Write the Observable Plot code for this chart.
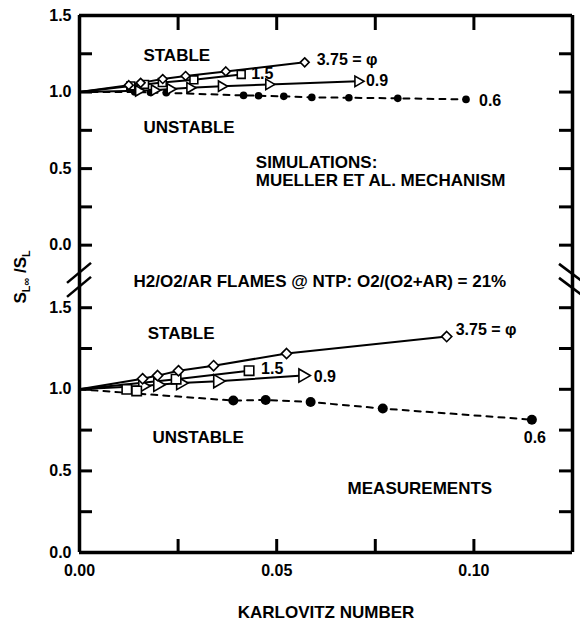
<!DOCTYPE html>
<html>
<head>
<meta charset="utf-8">
<script src="https://cdn.jsdelivr.net/npm/d3@7"></script>
<script src="https://cdn.jsdelivr.net/npm/@observablehq/plot@0.6"></script>
<style>
  html, body { margin: 0; padding: 0; background: #fff; }
  #chart { position: relative; width: 580px; height: 623px; }
  #chart svg { position: absolute; left: 0; top: 0; overflow: visible; }
</style>
</head>
<body>
<div id="chart"></div>
<script>
// ---------------- data ----------------
const originKa = 0.0, originSL = 1.0;

// Simulations (Mueller et al. mechanism)
const simKa375 = [0.0125, 0.0155, 0.0211, 0.0269, 0.0371, 0.0571];
const simSL375 = [1.045, 1.06, 1.085, 1.105, 1.135, 1.194];
const simKa15  = [0.013, 0.0165, 0.021, 0.029, 0.041];
const simSL15  = [1.04, 1.05, 1.062, 1.08, 1.115];
const simKa09  = [0.015, 0.019, 0.023, 0.028, 0.036, 0.048, 0.0706];
const simSL09  = [1.008, 1.012, 1.02, 1.028, 1.038, 1.05, 1.07];
const simKa06  = [0.014, 0.018, 0.022, 0.0416, 0.0454, 0.0518, 0.0589, 0.0683, 0.0807, 0.098];
const simSL06  = [1.0, 0.997, 0.995, 0.978, 0.976, 0.972, 0.965, 0.963, 0.959, 0.952];

// Measurements
const expKa375 = [0.016, 0.0198, 0.0251, 0.034, 0.0525, 0.0931];
const expSL375 = [1.065, 1.084, 1.114, 1.145, 1.219, 1.323];
const expKa15  = [0.0245, 0.043];
const expSL15  = [1.062, 1.114];
const expKa15x = [0.012, 0.0145];          // squares lying off the fitted line
const expSL15x = [1.0, 0.99];
const expKa09  = [0.016, 0.0198, 0.0256, 0.035, 0.0566];
const expSL09  = [1.02, 1.028, 1.038, 1.05, 1.084];
const expKa06  = [0.039, 0.0472, 0.0586, 0.0769, 0.1147];
const expSL06  = [0.931, 0.935, 0.922, 0.882, 0.814];

const seriesNames = ["3.75 = φ", "1.5", "0.9", "0.6"];
const yTicks  = [0, 0.25, 0.5, 0.75, 1.0, 1.25, 1.5];
const yLabels = [0, 0.5, 1.0, 1.5];
const xTicks  = [0.025, 0.05, 0.075, 0.1];
const xLabels = [0, 0.05, 0.1];
const xDomain = [0, 0.125];
const xTitle = "KARLOVITZ NUMBER";
const topNotes = ["STABLE", "UNSTABLE", "SIMULATIONS:", "MUELLER ET AL. MECHANISM"];
const midNote = "H2/O2/AR FLAMES @ NTP: O2/(O2+AR) = 21%";
const botNotes = ["STABLE", "UNSTABLE", "MEASUREMENTS"];

// ---------------- helpers ----------------
const pts = (ka, sl) => ka.map((k, i) => ({ka: k, sl: sl[i]}));
const withOrigin = p => [{ka: originKa, sl: originSL}, ...p];
const last = p => [p[p.length - 1]];

const W = 580, H = 623;
const mL = 79, mR = 8;
const frameW = W - mL - mR;
const tickLen = 13;
const FONT = '"Liberation Sans", Arial, Helvetica, sans-serif';
const txt = {fontWeight: "bold", fontSize: 17, fill: "black", fontFamily: FONT};
const styleObj = {background: "transparent", overflow: "visible", fontFamily: FONT};

function seriesMarks(set, sizes) {
  const m = [];
  m.push(Plot.line(withOrigin(set.d375), {x: "ka", y: "sl", stroke: "black", strokeWidth: 2}));
  m.push(Plot.line(withOrigin(set.d15), {x: "ka", y: "sl", stroke: "black", strokeWidth: 2}));
  m.push(Plot.line(withOrigin(set.d09), {x: "ka", y: "sl", stroke: "black", strokeWidth: 2}));
  m.push(Plot.line(withOrigin(set.d06), {x: "ka", y: "sl", stroke: "black", strokeWidth: 2, strokeDasharray: "6,6"}));
  m.push(Plot.dot(set.d06, {x: "ka", y: "sl", symbol: "circle", r: sizes.c, fill: "black", stroke: "none"}));
  m.push(Plot.dot(set.d09, {x: "ka", y: "sl", symbol: "triangle2", rotate: 90, r: sizes.t, fill: "white", stroke: "black", strokeWidth: 1.6}));
  m.push(Plot.dot(set.d15.concat(set.d15x || []), {x: "ka", y: "sl", symbol: "square2", r: sizes.s, fill: "white", stroke: "black", strokeWidth: 1.6}));
  m.push(Plot.dot(set.d375, {x: "ka", y: "sl", symbol: "diamond2", r: sizes.d, fill: "white", stroke: "black", strokeWidth: 1.6}));
  return m;
}

// ---------------- top panel (simulations) ----------------
const topBottomPx = 286;
const sim = {
  d375: pts(simKa375, simSL375), d15: pts(simKa15, simSL15),
  d09: pts(simKa09, simSL09), d06: pts(simKa06, simSL06)
};
const topPlot = Plot.plot({
  width: W, height: H,
  marginLeft: mL, marginRight: mR, marginTop: 15, marginBottom: H - topBottomPx,
  x: {domain: xDomain, axis: null},
  y: {domain: [-0.27, 1.5], axis: null},
  style: styleObj,
  marks: [
    Plot.ruleY([1.5], {strokeWidth: 3.5, stroke: "black"}),
    Plot.ruleX(xDomain, {strokeWidth: 3.5, stroke: "black"}),
    Plot.tickY(yTicks, {y: d => d, insetRight: frameW - tickLen, strokeWidth: 3}),
    Plot.tickY(yTicks.filter(d => d < 1.5), {y: d => d, insetLeft: frameW - tickLen, strokeWidth: 3}),
    Plot.tickX(xTicks, {x: d => d, insetBottom: (topBottomPx - 15) - 15, strokeWidth: 3}),
    Plot.text(yLabels, {x: 0, y: d => d, text: d => d3.format(".1f")(d), textAnchor: "end", dx: -8, ...txt, fontSize: 16}),
    ...seriesMarks(sim, {c: 3.8, t: 5, s: 5, d: 4}),
    Plot.text(last(sim.d375), {x: "ka", y: "sl", text: () => seriesNames[0], textAnchor: "start", dx: 12, dy: -2, ...txt, fontSize: 16}),
    Plot.text(last(sim.d15), {x: "ka", y: "sl", text: () => seriesNames[1], textAnchor: "start", dx: 10, dy: -1, ...txt, fontSize: 16}),
    Plot.text(last(sim.d09), {x: "ka", y: "sl", text: () => seriesNames[2], textAnchor: "start", dx: 8, dy: 0, ...txt, fontSize: 16}),
    Plot.text(last(sim.d06), {x: "ka", y: "sl", text: () => seriesNames[3], textAnchor: "start", dx: 13, dy: 1, ...txt, fontSize: 16}),
    Plot.text([topNotes[0]], {x: 0.0162, y: 1.24, text: d => d, textAnchor: "start", ...txt}),
    Plot.text([topNotes[1]], {x: 0.0162, y: 0.765, text: d => d, textAnchor: "start", ...txt}),
    Plot.text([topNotes[2]], {x: 0.0447, y: 0.54, text: d => d, textAnchor: "start", ...txt}),
    Plot.text([topNotes[3]], {x: 0.0447, y: 0.424, text: d => d, textAnchor: "start", ...txt}),
    Plot.text([midNote], {x: 0.0137, y: -0.24, text: d => d, textAnchor: "start", ...txt})
  ]
});

// ---------------- bottom panel (measurements) ----------------
const exp = {
  d375: pts(expKa375, expSL375), d15: pts(expKa15, expSL15), d15x: pts(expKa15x, expSL15x),
  d09: pts(expKa09, expSL09), d06: pts(expKa06, expSL06)
};
const botPlot = Plot.plot({
  width: W, height: H,
  marginLeft: mL, marginRight: mR, marginTop: topBottomPx, marginBottom: 71,
  x: {domain: xDomain, axis: null},
  y: {domain: [0, 1.63], axis: null},
  style: styleObj,
  marks: [
    Plot.ruleY([0], {strokeWidth: 3.5, stroke: "black"}),
    Plot.ruleX(xDomain, {strokeWidth: 3.5, stroke: "black"}),
    Plot.tickY(yTicks, {y: d => d, insetRight: frameW - tickLen, strokeWidth: 3}),
    Plot.tickY(yTicks.filter(d => d > 0), {y: d => d, insetLeft: frameW - tickLen, strokeWidth: 3}),
    Plot.tickX(xTicks, {x: d => d, insetTop: (H - 71 - topBottomPx) - tickLen, strokeWidth: 3}),
    Plot.text(yLabels, {x: 0, y: d => d, text: d => d3.format(".1f")(d), textAnchor: "end", dx: -8, ...txt, fontSize: 16}),
    Plot.text(xLabels, {x: d => d, y: 0, text: d => d3.format(".2f")(d), dy: 18, ...txt, fontSize: 16}),
    Plot.text([xTitle], {frameAnchor: "bottom", lineAnchor: "middle", dy: 60, text: d => d, ...txt}),
    ...seriesMarks(exp, {c: 5, t: 6.3, s: 6, d: 4.6}),
    Plot.text(last(exp.d375), {x: "ka", y: "sl", text: () => seriesNames[0], textAnchor: "start", dx: 9, dy: -7, ...txt, fontSize: 16}),
    Plot.text(last(exp.d15), {x: "ka", y: "sl", text: () => seriesNames[1], textAnchor: "start", dx: 12, dy: -2, ...txt, fontSize: 16}),
    Plot.text(last(exp.d09), {x: "ka", y: "sl", text: () => seriesNames[2], textAnchor: "start", dx: 11, dy: 1, ...txt, fontSize: 16}),
    Plot.text(last(exp.d06), {x: "ka", y: "sl", text: () => seriesNames[3], textAnchor: "middle", dx: 3, dy: 18, ...txt, fontSize: 16}),
    Plot.text([botNotes[0]], {x: 0.0173, y: 1.341, text: d => d, textAnchor: "start", ...txt}),
    Plot.text([botNotes[1]], {x: 0.0185, y: 0.704, text: d => d, textAnchor: "start", ...txt}),
    Plot.text([botNotes[2]], {x: 0.0863, y: 0.392, text: d => d, textAnchor: "middle", ...txt})
  ]
});

const chart = document.getElementById("chart");
chart.appendChild(topPlot);
chart.appendChild(botPlot);

// ---------------- axis break marks & y-axis title ----------------
const svg = d3.select(botPlot);
const xs = topPlot.scale("x"), ys = topPlot.scale("y");
const px0 = xs.apply(xDomain[0]), px1 = xs.apply(xDomain[1]);
const yc = ys.apply(-0.23);
const g = svg.append("g").attr("stroke", "black").attr("stroke-width", 2.6).attr("fill", "none");
[-7, 7].forEach(o => {
  g.append("line").attr("x1", px0 - 12).attr("y1", yc + o + 10).attr("x2", px0 + 12).attr("y2", yc + o - 10);
  g.append("line").attr("x1", px1 - 13).attr("y1", yc + o - 9).attr("x2", px1 + 11).attr("y2", yc + o + 9);
});

const yl = svg.append("text")
  .attr("transform", `translate(26,${yc - 3}) rotate(-90)`)
  .attr("text-anchor", "middle")
  .attr("font-family", FONT).attr("font-weight", "bold").attr("font-size", 17);
yl.append("tspan").text("S");
yl.append("tspan").attr("font-size", 11).attr("dy", 4).text("L∞");
yl.append("tspan").attr("dy", -4).text(" /S");
yl.append("tspan").attr("font-size", 11).attr("dy", 4).text("L");
</script>
</body>
</html>
